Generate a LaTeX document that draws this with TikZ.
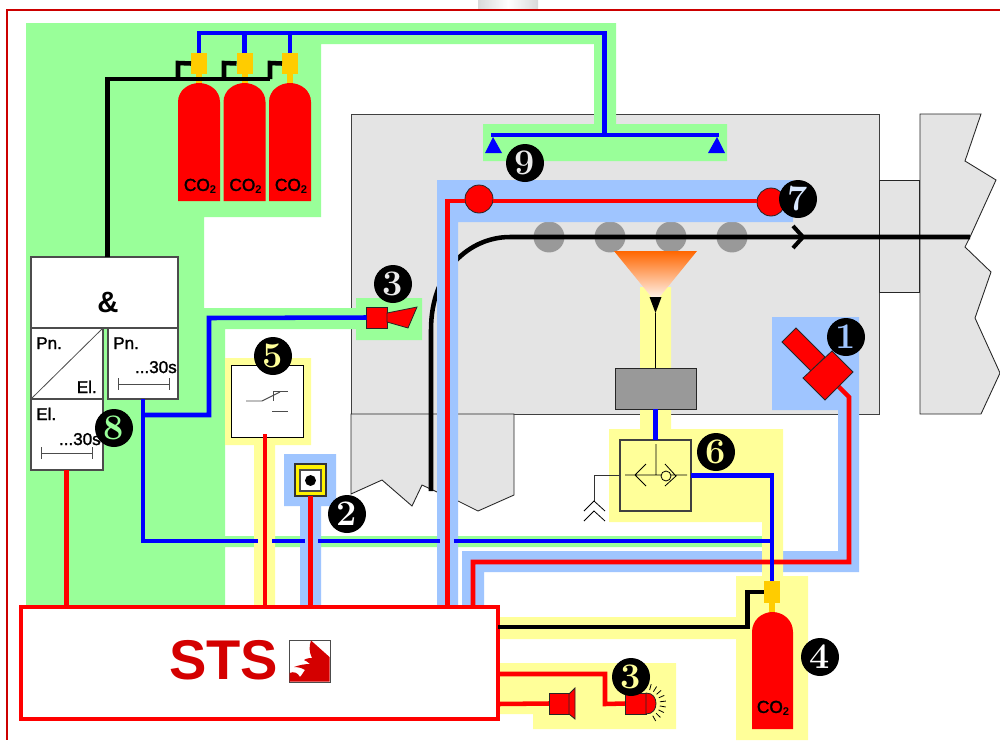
\documentclass[tikz,border=0pt]{standalone}
\usepackage{fontspec}
\setmainfont{Latin Modern Roman}
\newfontfamily\arial{Liberation Sans}
\newfontfamily\arialfb[FakeBold=1.6]{Liberation Sans}
\usetikzlibrary{calc}
\definecolor{bgreen}{HTML}{99FF99}
\definecolor{bblue}{HTML}{9FC5FF}
\definecolor{byellow}{HTML}{FFFF99}
\definecolor{mach}{HTML}{E4E4E4}
\definecolor{roller}{HTML}{999999}
\definecolor{valve}{HTML}{FFCC00}
\definecolor{frame}{HTML}{CC0000}
\definecolor{stsred}{HTML}{D40000}
\definecolor{pipeblue}{HTML}{0000FF}
\definecolor{flame}{HTML}{FF6600}
\tikzset{
  pipe/.style={draw=#1,line width=3.4pt,line join=miter},
  redpipe/.style={pipe=red},
  bluepipe/.style={pipe=pipeblue},
  blackpipe/.style={pipe=black},
  part/.style 2 args={rectangle,inner sep=0pt,outer sep=0pt,minimum width=#1*0.75pt,minimum height=#2*0.75pt},
  whitebox/.style={fill=white,draw=black!70,line width=0.8pt},
  badge/.style={circle,fill=black,inner sep=0pt,minimum size=28.5pt,font=\fontsize{27}{27}\selectfont\bfseries,text=#1},
  label/.style={font=\arialfb\fontsize{12.8}{13}\selectfont,text=black,inner sep=0pt},
  co/.style={font=\arialfb\fontsize{13}{13}\selectfont,text=black,inner sep=0pt},
  redpart/.style={fill=red,draw=black!85,line width=0.6pt},
  mchevron/.style={draw=black,line width=0.6pt},
}
\newcommand{\cotwo}{CO\raisebox{-0.25ex}{\arial\bfseries\fontsize{8.4}{9}\selectfont 2}}
\begin{document}
\begin{tikzpicture}[x=0.75pt,y=-0.75pt]
\useasboundingbox (0,0) rectangle (1000,740);
\fill[white] (0,0) rectangle (1000,740);
% top stub and frame
\shade[left color=black!15,right color=black!15,middle color=white] (478,0) rectangle (538,9);
\draw[frame,line width=1.5pt] (1000,10) -- (7,10) -- (7,740);
% machine
\path[fill=mach,draw=black!75,line width=0.65pt] (351,114) rectangle (879,414);
\path[fill=mach,draw=black!85,line width=0.65pt] (351,414) -- (351,494) -- (382,480) -- (412,506) -- (422,485) -- (437,492) -- (458,501) -- (478,511) -- (514,495) -- (514,414) -- cycle;
\path[fill=mach,draw=black!85,line width=0.65pt] (879,180) rectangle (919,292);
\path[fill=mach,draw=black!85,line width=0.65pt] (920,114) -- (981,114) -- (965,161) -- (996,180) -- (970,237) -- (965,247) -- (991,272) -- (975,318) -- (1000,373) -- (981,414) -- (920,414) -- cycle;
% rollers
\foreach \n/\x in {a/549,b/610,c/671,d/732}
  \node[circle,fill=roller,minimum size=23.2pt,inner sep=0pt] (roll\n) at (\x,237) {};
% web
\coordinate (webend) at (970,237);
\coordinate (webstart) at (431,491);
\draw[blackpipe] (webend) -- (510,237) .. controls (470,237) and (431,270) .. (431,330) -- (webstart);
\draw[black,line width=3pt] (793,226) -- (803,237) -- (793,248);
% green areas
\fill[bgreen] (26,23) -- (616,23) -- (616,124) -- (727,124) -- (727,161) -- (483,161) -- (483,124) -- (594,124) -- (594,44) -- (321,44) -- (321,217) -- (204,217) -- (204,308) -- (356,308) -- (356,298) -- (422,298) -- (422,340) -- (356,340) -- (356,329) -- (225,329) -- (225,536) -- (764,536) -- (764,547) -- (225,547) -- (225,606) -- (26,606) -- cycle;
% light blue areas
\fill[bblue] (437,606) -- (437,180) -- (793,180) -- (793,222) -- (458,222) -- (458,606) -- cycle;
\fill[bblue] (772,317) -- (859,317) -- (859,572) -- (484,572) -- (484,606) -- (462,606) -- (462,551) -- (838,551) -- (838,410) -- (772,410) -- cycle;
\fill[bblue] (284,454) -- (336,454) -- (336,506) -- (321,506) -- (321,606) -- (300,606) -- (300,506) -- (284,506) -- cycle;
% yellow areas
\fill[byellow] (225,358) -- (311,358) -- (311,445) -- (275,445) -- (275,606) -- (254,606) -- (254,445) -- (225,445) -- cycle;
\fill[byellow] (640,287) -- (671,287) -- (671,429) -- (783,429) -- (783,576) -- (808,576) -- (808,740) -- (736,740) -- (736,639) -- (500,639) -- (500,617) -- (736,617) -- (736,576) -- (762,576) -- (762,522) -- (609,522) -- (609,429) -- (640,429) -- cycle;
\fill[byellow] (500,663) -- (676,663) -- (676,729) -- (533,729) -- (533,714) -- (500,714) -- cycle;
% funnel
\shade[top color=flame,bottom color=white] (614,251) -- (697,251) -- (655.5,302) -- cycle;
\fill[black] (649.5,297) -- (661.5,297) -- (655.5,313) -- cycle;
% STS
\node[part={477}{112},fill=white,draw=red,line width=3pt] (sts) at (259.5,663) {};
\node[font=\arial\bfseries\fontsize{42}{42}\selectfont,text=stsred,inner sep=0pt] (ststxt) at (223.5,660.5) {STS};
\node[part={41}{42},fill=white,draw=black!70,line width=0.6pt] (logo) at (309.5,661) {};
\fill[stsred] (289.5,681.5) -- (289.5,673) .. controls (294,671) and (298,673) .. (300,677) .. controls (302,675) and (304,671) .. (305,670) .. controls (302,668) and (298,667) .. (294,667) .. controls (299,665) and (305,664) .. (310,664) .. controls (308,662) and (306,661) .. (304,660) .. controls (307,658) and (310,658) .. (312,658) .. controls (309,652) and (309,646) .. (311,640.5) -- (329.5,657) -- (329.5,681.5) -- cycle;
% panel 8
\node[part={147}{71},whitebox] (andbox) at (104.5,292.5) {};
\node[font=\arial\bfseries\fontsize{22}{22}\selectfont,inner sep=0pt] (andtxt) at (108,302) {\&};
\node[part={72}{71},whitebox] (pnel) at (67,363.5) {};
\draw[black!70,line width=0.6pt] (pnel.south west) -- (pnel.north east);
\node[part={70}{71},whitebox] (pntimer) at (143,363.5) {};
\node[part={72}{71},whitebox] (eltimer) at (67,434.5) {};
\node[label,anchor=base west] (l1) at (36,349) {Pn.};
\node[label,anchor=base east] (l2) at (97,393) {El.};
\node[label,anchor=base west] (l3) at (113,349) {Pn.};
\node[label,anchor=base east] (l4) at (177,373) {...30s};
\node[label,anchor=base west] (l5) at (36,420) {El.};
\node[label,anchor=base east] (l6) at (101,445) {...30s};
\draw[black!70,line width=0.7pt] (118,378) -- (118,390) (118,384) -- (169,384) (169,378) -- (169,390);
\draw[black!70,line width=0.7pt] (41,447) -- (41,459) (41,453) -- (92,453) (92,447) -- (92,459);
% cylinders
\foreach \n/\x in {a/199,b/244.5,c/290}{
  \node[part={16}{21},fill=valve] (v\n) at (\x,63.5) {};
  \fill[valve] (\x-3,74) rectangle (\x+3,84);
  \fill[red] (\x-21,201) -- (\x-21,102) .. controls (\x-21,90) and (\x-10,83) .. (\x,83) .. controls (\x+10,83) and (\x+21,90) .. (\x+21,102) -- (\x+21,201) -- cycle;
  \node[co] (co\n) at (\x+1,186) {\cotwo};
}
% black pipe from panel to cylinders
\coordinate (andtop) at (107.5,257);
\draw[blackpipe] (andtop) -- (107.5,79) -- (270,79);
\draw[blackpipe] (178,79) -- (178,63) -- (va.west);
\draw[blackpipe] (224,79) -- (224,63) -- (vb.west);
\draw[blackpipe] (270,79) -- (270,63) -- (vc.west);
\draw[bluepipe] (va.north) -- (199,33) -- (604.5,33) -- (604.5,135);
\draw[bluepipe] (vb.north) -- (244.5,33);
\draw[bluepipe] (vc.north) -- (290,33);
% nozzles 9
\node[part={1}{1}] (noz1) at (493,137) {};
\node[part={1}{1}] (noz2) at (717,137) {};
\draw[pipeblue,line width=3.4pt] (noz1.center) -- (493,135) -- (717,135) -- (noz2.center);
\fill[pipeblue] (485,153) -- (502,153) -- (493,137) -- cycle;
\fill[pipeblue] (708,153) -- (725,153) -- (717,137) -- cycle;
% line with sensors 7
\node[circle,redpart,minimum size=21pt,inner sep=0pt] (sen1) at (479,199) {};
\node[circle,redpart,minimum size=21pt,inner sep=0pt] (sen2) at (771,202) {};
\draw[redpipe] (447.5,606) -- (447.5,201) -- (sen1.west |- 447.5,201);
\draw[redpipe] (sen1.east |- 479,201) -- (sen2.west |- 771,201);
% sensor 1
\coordinate (s1) at (838,386);
\draw[redpipe] (473,606) -- (473,562) -- (849,562) -- (849,397) -- (s1);
\path[redpart] (782,342) -- (796,328) -- (825,357) -- (811,371) -- cycle;
\path[redpart] (832,351) -- (853,372) -- (825,400) -- (803,378) -- cycle;
% blue trunk
\node[part={1}{1}] (mjoin) at (772,541) {};
\draw[bluepipe] (143,399) -- (143,541) -- (258,541);
\draw[bluepipe] (272,541) -- (305,541);
\draw[bluepipe] (318,541) -- (440,541);
\draw[bluepipe] (454,541) -- (mjoin.center);
\node[part={21}{21},redpart] (horn) at (377,317.5) {};
\draw[bluepipe] (143,415) -- (209,415) -- (209,318) -- (horn.west);
\path[redpart] (387,313) -- (417,307) -- (408,328) -- (387,322) -- cycle;
% switch 5
\node[part={72}{72},fill=white,draw=black,line width=0.7pt] (sw) at (267,401) {};
\draw[black!70,line width=0.7pt] (246,401) -- (262,401) -- (280,392);
\draw[black!70,line width=0.7pt] (273,391) -- (288,391) (273,391) -- (273,401) (272,411) -- (288,411);
\draw[redpipe] (265,434) -- (265,606);
% detector 2
\node[part={31}{32},fill=yellow,draw=black!80,line width=0.8pt] (det) at (310.5,480) {};
\node[part={21}{21},fill=white,draw=black!70,line width=0.8pt] (detin) at (310.5,480.5) {};
\node[circle,fill=black,minimum size=8.2pt,inner sep=0pt] (detdot) at (310.5,480.5) {};
\draw[redpipe] (det.south) -- (310.5,606);
\draw[redpipe] (eltimer.south -| 66.5,470) -- (66.5,606);
% gray block and 6
\node[part={81}{41},fill=roller,draw=black!85,line width=0.7pt] (block) at (655.5,388.5) {};
\draw[black,line width=0.7pt] (655.5,313) -- (block.north);
\node[part={71}{71},fill=none,draw=black!75,line width=0.8pt] (box6) at (655.5,475.5) {};
\draw[bluepipe] (block.south) -- (655.5,440);
\draw[mchevron] (656,444) -- (656,475) (625,475) -- (687,475) (646,464) -- (635,475) -- (646,486) (665,464) -- (676,476) -- (665,486);
\draw[mchevron,fill=byellow] (666,476) circle[radius=5];
\coordinate (exhaust) at (594,501);
\draw[black!80,line width=0.7pt] (box6.west) -- (594,475.5) -- (exhaust);
\draw[mchevron] (584,511) -- (exhaust) -- (605,511) (584,521) -- (594,511) -- (605,521);
% cylinder 4
\node[part={16}{22},fill=valve] (v4) at (772,592) {};
\fill[valve] (769,603) rectangle (775,613);
\fill[red] (752,729) -- (752,632) .. controls (752,620) and (762,612) .. (772.5,612) .. controls (783,612) and (793,620) .. (793,632) -- (793,729) -- cycle;
\node[co] (co4) at (773,708) {\cotwo};
\draw[bluepipe] (box6.east) -- (772,475.5) -- (v4.north);
\draw[blackpipe] (sts.east |- 500,627) -- (747.5,627) -- (747.5,592) -- (v4.west);
% alarms
\node[part={20}{21},redpart] (horn2) at (559,703.5) {};
\path[fill=red,draw=black!85,line width=0.6pt] (569,694) -- (575,688) -- (575,719) -- (569,714) -- cycle;
\node[part={21}{21},redpart] (lamp) at (635.5,703.5) {};
\path[redpart] (646,693) .. controls (653,693) and (656,698) .. (656,703.5) .. controls (656,709) and (653,714) .. (646,714) -- cycle;
\foreach \a in {-75,-58,...,75}
  \draw[black,line width=0.6pt] ($(646,703.5)+(\a:14)$) -- ($(646,703.5)+(\a:20)$);
\draw[redpipe] (sts.east |- 500,704) -- (horn2.west);
\draw[redpipe] (sts.east |- 500,674) -- (605,674) -- (605,704) -- (lamp.west);
% badges
\node[badge=bblue] (b1) at (846,337) {1};
\node[badge=white] (b2) at (347,514) {2};
\node[badge=black!8] (b3a) at (393,284) {3};
\node[badge=byellow] (b3b) at (631,677) {3};
\node[badge=white] (b4) at (820,657) {4};
\node[badge=byellow] (b5) at (273,356) {5};
\node[badge=byellow] (b6) at (716,452) {6};
\node[badge=bblue!40] (b7) at (798,199) {7};
\node[badge=bgreen] (b8) at (114,428) {8};
\node[badge=black!8] (b9) at (525,163) {9};
\end{tikzpicture}
\end{document}
